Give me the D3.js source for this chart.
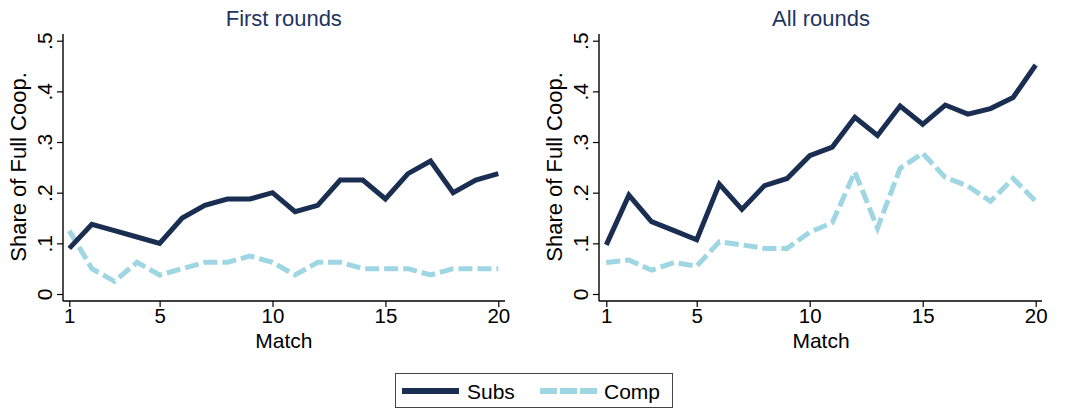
<!DOCTYPE html>
<html><head><meta charset="utf-8">
<script src="https://cdn.jsdelivr.net/npm/d3@7"></script>
<style>body{margin:0;background:#fff}svg{display:block}text{font-family:"Liberation Sans",Arial,sans-serif}</style>
</head><body>
<svg id="c" width="1069" height="409"></svg>
<script>
const matches = d3.range(1, 21);
const panelTitles = ["First rounds", "All rounds"];
const seriesNames = ["Subs", "Comp"];
const firstSubs = [0.09,0.1375,0.125,0.1125,0.10,0.15,0.175,0.1875,0.1875,0.20,0.1625,0.175,0.225,0.225,0.1875,0.2375,0.2625,0.20,0.225,0.2375];
const firstComp = [0.125,0.05,0.025,0.0625,0.0375,0.05,0.0625,0.0625,0.075,0.0625,0.0375,0.0625,0.0625,0.05,0.05,0.05,0.0375,0.05,0.05,0.05];
const allSubs = [0.097,0.195,0.143,0.125,0.107,0.217,0.167,0.214,0.228,0.273,0.290,0.349,0.313,0.371,0.335,0.373,0.355,0.366,0.388,0.452];
const allComp = [0.062,0.067,0.047,0.062,0.055,0.103,0.097,0.090,0.090,0.122,0.141,0.241,0.130,0.248,0.278,0.230,0.213,0.183,0.228,0.183];
const xTicks = [1,5,10,15,20];
const yTicks = [0,0.1,0.2,0.3,0.4,0.5];
const yTickLabels = ["0",".1",".2",".3",".4",".5"];
const xLabel = "Match";
const yLabel = "Share of Full Coop.";

const colors = {Subs:"#1a2e52", Comp:"#9ed6e3"};
const dash = {Subs:null, Comp:"14,5"};
const titleColor = "#1e3461";
const svg = d3.select("#c");

const panels = [
  {title:panelTitles[0], data:{Subs:firstSubs, Comp:firstComp}, x0:69.3, x1:498.3, axisX:63, right:505},
  {title:panelTitles[1], data:{Subs:allSubs, Comp:allComp}, x0:606.3, x1:1035.7, axisX:599, right:1042}
];

panels.forEach(p => {
  const x = d3.scaleLinear().domain([1,20]).range([p.x0, p.x1]);
  const y = d3.scaleLinear().domain([0,0.5]).range([294, 40.7]);
  const g = svg.append("g");
  const axisY = 301, top = 34;

  // y axis
  const ya = g.append("g").attr("transform",`translate(${p.axisX},0)`)
    .call(d3.axisLeft(y).tickValues(yTicks).tickFormat((d,i)=>yTickLabels[i]).tickSize(6).tickSizeOuter(0));
  ya.select(".domain").remove();
  ya.selectAll(".tick line").attr("stroke","#000").attr("stroke-width",1.2);
  ya.selectAll(".tick text").attr("font-size",21).attr("fill","#000")
    .attr("x",null).attr("dy",null).attr("text-anchor","middle")
    .attr("transform","translate(-11,0) rotate(-90)");
  g.append("line").attr("x1",p.axisX).attr("x2",p.axisX).attr("y1",top).attr("y2",axisY)
    .attr("stroke","#000").attr("stroke-width",1.4);

  // x axis
  const xa = g.append("g").attr("transform",`translate(0,${axisY})`)
    .call(d3.axisBottom(x).tickValues(xTicks).tickFormat(d3.format("d")).tickSize(6).tickSizeOuter(0));
  xa.select(".domain").remove();
  xa.selectAll(".tick line").attr("stroke","#000").attr("stroke-width",1.2);
  xa.selectAll(".tick text").attr("font-size",20.5).attr("fill","#000").attr("dy",null).attr("y",22);
  g.append("line").attr("x1",p.axisX).attr("x2",p.right).attr("y1",axisY).attr("y2",axisY)
    .attr("stroke","#000").attr("stroke-width",1.4);

  const cx = (p.x0 + p.x1)/2;
  g.append("text").attr("x",cx).attr("y",347.5).attr("text-anchor","middle").attr("font-size",21).attr("fill","#000").text(xLabel);
  g.append("text").attr("transform",`translate(${p.axisX-37},167) rotate(-90)`).attr("text-anchor","middle")
    .attr("font-size",22).attr("fill","#000").text(yLabel);
  g.append("text").attr("x",cx).attr("y",26).attr("text-anchor","middle").attr("font-size",22).attr("fill",titleColor).text(p.title);

  const line = d3.line().x((d,i)=>x(matches[i])).y(d=>y(d));
  ["Comp","Subs"].forEach(s => {
    g.append("path").datum(p.data[s]).attr("d",line).attr("fill","none")
      .attr("stroke",colors[s]).attr("stroke-width",5).attr("stroke-linejoin","miter")
      .attr("stroke-dasharray",dash[s]);
  });
});

// legend
const lg = svg.append("g");
lg.append("rect").attr("x",395.5).attr("y",373.5).attr("width",277).attr("height",34)
  .attr("fill","#fff").attr("stroke","#444").attr("stroke-width",1);
const legendItems = [{name:seriesNames[0], lx:402, tx:467},{name:seriesNames[1], lx:540, tx:604}];
legendItems.forEach(it => {
  lg.append("line").attr("x1",it.lx).attr("x2",it.lx+57).attr("y1",391).attr("y2",391)
    .attr("stroke",colors[it.name]).attr("stroke-width",6).attr("stroke-dasharray",it.name==="Comp"?"17,3":null);
  lg.append("text").attr("x",it.tx).attr("y",398.5).attr("font-size",21).attr("fill","#000").text(it.name);
});
</script>
</body></html>
